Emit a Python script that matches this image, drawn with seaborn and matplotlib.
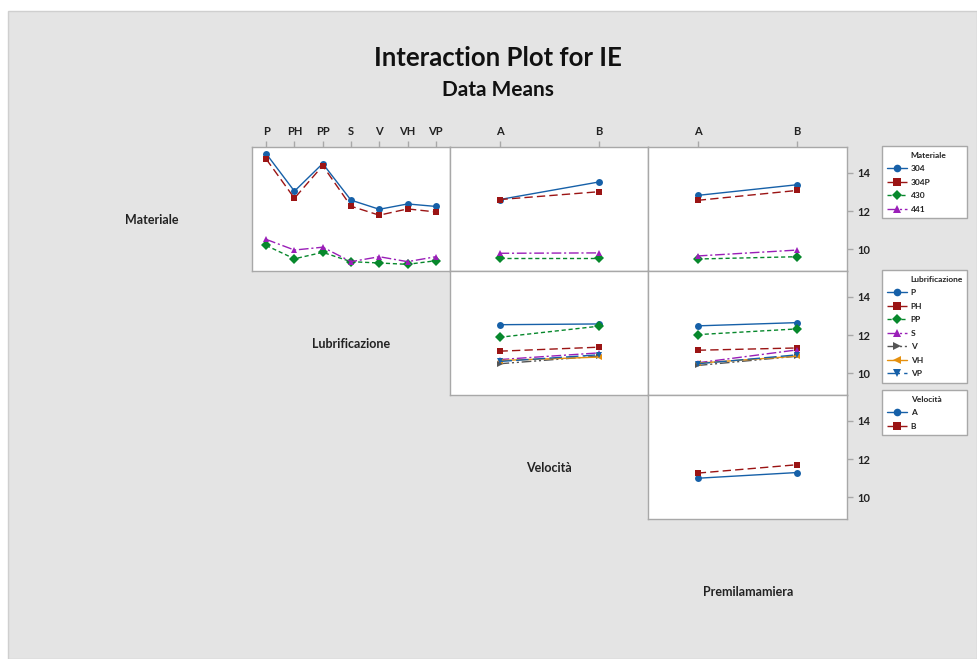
import seaborn as sns
import matplotlib.pyplot as plt
import matplotlib.patches as mpatches
import pandas as pd

# ---------------------------------------------------------------
# Data (means of IE)
# ---------------------------------------------------------------
materiale = ["304", "304P", "430", "441"]
lubrificazione = ["P", "PH", "PP", "S", "V", "VH", "VP"]
velocita = ["A", "B"]
premilamamiera = ["A", "B"]

# Materiale lines across Lubrificazione levels
mat_by_lub = {
    "304":  [15.01, 13.04, 14.49, 12.57, 12.09, 12.37, 12.24],
    "304P": [14.73, 12.67, 14.38, 12.25, 11.78, 12.11, 11.95],
    "430":  [10.19, 9.49, 9.83, 9.34, 9.27, 9.20, 9.39],
    "441":  [10.51, 9.95, 10.10, 9.34, 9.60, 9.34, 9.60],
}
# Materiale lines across Velocita
mat_by_vel = {
    "304":  [12.60, 13.52],
    "304P": [12.60, 13.01],
    "430":  [9.52, 9.52],
    "441":  [9.78, 9.80],
}
# Materiale lines across Premilamamiera
mat_by_prem = {
    "304":  [12.82, 13.38],
    "304P": [12.56, 13.08],
    "430":  [9.48, 9.60],
    "441":  [9.64, 9.95],
}
# Lubrificazione lines across Velocita
lub_by_vel = {
    "P":  [12.54, 12.58],
    "PH": [11.15, 11.36],
    "PP": [11.88, 12.46],
    "S":  [10.71, 11.06],
    "V":  [10.49, 10.89],
    "VH": [10.66, 10.84],
    "VP": [10.61, 10.96],
}
# Lubrificazione lines across Premilamamiera
lub_by_prem = {
    "P":  [12.48, 12.65],
    "PH": [11.20, 11.32],
    "PP": [12.02, 12.32],
    "S":  [10.54, 11.22],
    "V":  [10.40, 10.89],
    "VH": [10.52, 10.89],
    "VP": [10.49, 10.96],
}
# Velocita lines across Premilamamiera
vel_by_prem = {
    "A": [10.99, 11.29],
    "B": [11.26, 11.70],
}

# ---------------------------------------------------------------
# Styling (Minitab-like)
# ---------------------------------------------------------------
sns.set_style("white")
plt.rcParams["font.family"] = ["Lato", "DejaVu Sans"]
plt.rcParams["font.weight"] = "bold"

blue = "#1660A8"
red = "#9B1414"
green = "#07882C"
purple = "#9A1FB8"
grey = "#555555"
orange = "#E5900E"

styles_mat = {
    "304":  (blue, "o", ""),
    "304P": (red, "s", (6, 3)),
    "430":  (green, "D", (3, 2)),
    "441":  (purple, "^", (7, 2, 1.5, 2)),
}
styles_lub = {
    "P":  (blue, "o", ""),
    "PH": (red, "s", (6, 3)),
    "PP": (green, "D", (3, 2)),
    "S":  (purple, "^", (7, 2, 1.5, 2)),
    "V":  (grey, ">", (7, 2, 1.5, 2, 1.5, 2)),
    "VH": (orange, "<", ""),
    "VP": (blue, "v", (9, 3)),
}
styles_vel = {
    "A": (blue, "o", ""),
    "B": (red, "s", (6, 3)),
}

W, H = 977, 659
fig = plt.figure(figsize=(W / 100, H / 100), dpi=100)
fig.patch.set_facecolor("white")
fig.add_artist(mpatches.Rectangle((8 / W, 0), 1 - 8 / W, 1 - 11 / H,
                                  transform=fig.transFigure,
                                  facecolor="#E4E4E4", edgecolor="#CFCFCF",
                                  lw=1, zorder=-10))

col_x = [252, 450, 648, 847]
row_y = [147, 271, 395, 519]
YLIM = (8.85, 15.36)


def make_ax(r, c):
    x0, x1 = col_x[c], col_x[c + 1]
    y0, y1 = row_y[r], row_y[r + 1]
    ax = fig.add_axes([x0 / W, 1 - y1 / H, (x1 - x0) / W, (y1 - y0) / H])
    ax.set_facecolor("white")
    for s in ax.spines.values():
        s.set_color("#A8A8A8")
        s.set_linewidth(1)
    return ax


def draw(ax, table, levels, styles, nlev):
    rows = []
    for g, vals in table.items():
        for i, v in enumerate(vals):
            rows.append({"pos": i, "IE": v, "group": g})
    df = pd.DataFrame(rows)
    sns.lineplot(
        data=df, x="pos", y="IE", hue="group", style="group",
        hue_order=list(styles), style_order=list(styles),
        palette={k: v[0] for k, v in styles.items()},
        markers={k: v[1] for k, v in styles.items()},
        dashes={k: v[2] for k, v in styles.items()},
        markersize=5, markeredgewidth=0, linewidth=1,
        ax=ax, legend=False,
    )
    ax.set_xlim(-0.5, nlev - 0.5)
    ax.set_ylim(*YLIM)
    ax.set_xlabel("")
    ax.set_ylabel("")
    ax.set_xticks(range(nlev))
    ax.set_xticklabels(levels)
    ax.set_yticks([10, 12, 14])


panels = [
    (0, 0, mat_by_lub, lubrificazione, styles_mat),
    (0, 1, mat_by_vel, velocita, styles_mat),
    (0, 2, mat_by_prem, premilamamiera, styles_mat),
    (1, 1, lub_by_vel, velocita, styles_lub),
    (1, 2, lub_by_prem, premilamamiera, styles_lub),
    (2, 2, vel_by_prem, premilamamiera, styles_vel),
]

for r, c, table, levels, styles in panels:
    ax = make_ax(r, c)
    draw(ax, table, levels, styles, len(levels))
    ax.tick_params(axis="both", colors="#A8A8A8", labelcolor="#222222",
                   labelsize=8, length=4, width=1, direction="out")
    if r == 0:
        ax.xaxis.tick_top()
        for t in ax.get_xticklabels():
            t.set_fontweight("bold")
    else:
        ax.tick_params(axis="x", which="both", bottom=False, top=False,
                       labelbottom=False, labeltop=False)
    if c == 2:
        ax.yaxis.tick_right()
        for t in ax.get_yticklabels():
            t.set_fontweight("bold")
    else:
        ax.tick_params(axis="y", which="both", left=False, right=False,
                       labelleft=False, labelright=False)

# diagonal labels
for txt, (px, py) in zip(["Materiale", "Lubrificazione", "Velocità", "Premilamamiera"],
                         [(152, 220), (351, 344), (549, 468), (748, 592)]):
    fig.text(px / W, 1 - py / H, txt, ha="center", va="center",
             fontsize=9, fontweight="bold", color="#222222")


# legends: title drawn as first (handle-less) row so it lines up with labels
def legend_for(title, styles, top):
    handles = [plt.Line2D([], [], linestyle="none", marker="none")]
    for k, (col, mk, ds) in styles.items():
        ls = "-" if ds == "" else (0, ds)
        handles.append(plt.Line2D([], [], color=col, marker=mk, linestyle=ls,
                                  markersize=5.5, markeredgewidth=0, lw=1))
    leg = fig.legend(handles, [title] + list(styles), loc="upper left",
                     bbox_to_anchor=(882 / W, 1 - top / H, 85 / W, 0.001),
                     mode="expand", borderaxespad=0, fontsize=6,
                     frameon=True, framealpha=1, facecolor="white",
                     fancybox=False, handlelength=2.3,
                     handletextpad=0.5, borderpad=0.65, labelspacing=0.78)
    leg.get_frame().set_edgecolor("#A8A8A8")
    leg.get_frame().set_linewidth(1)
    for t in leg.get_texts():
        t.set_fontweight("bold")
        t.set_color("#222222")


legend_for("Materiale", styles_mat, 147)
legend_for("Lubrificazione", styles_lub, 271)
legend_for("Velocità", styles_vel, 391)

fig.text(498 / W, 1 - 58 / H, "Interaction Plot for IE", ha="center",
         va="center", fontsize=18.5, fontweight="bold", color="#111111")
fig.text(498 / W, 1 - 90 / H, "Data Means", ha="center", va="center",
         fontsize=15, fontweight="bold", color="#111111")

fig.savefig("out.png", dpi=100)
